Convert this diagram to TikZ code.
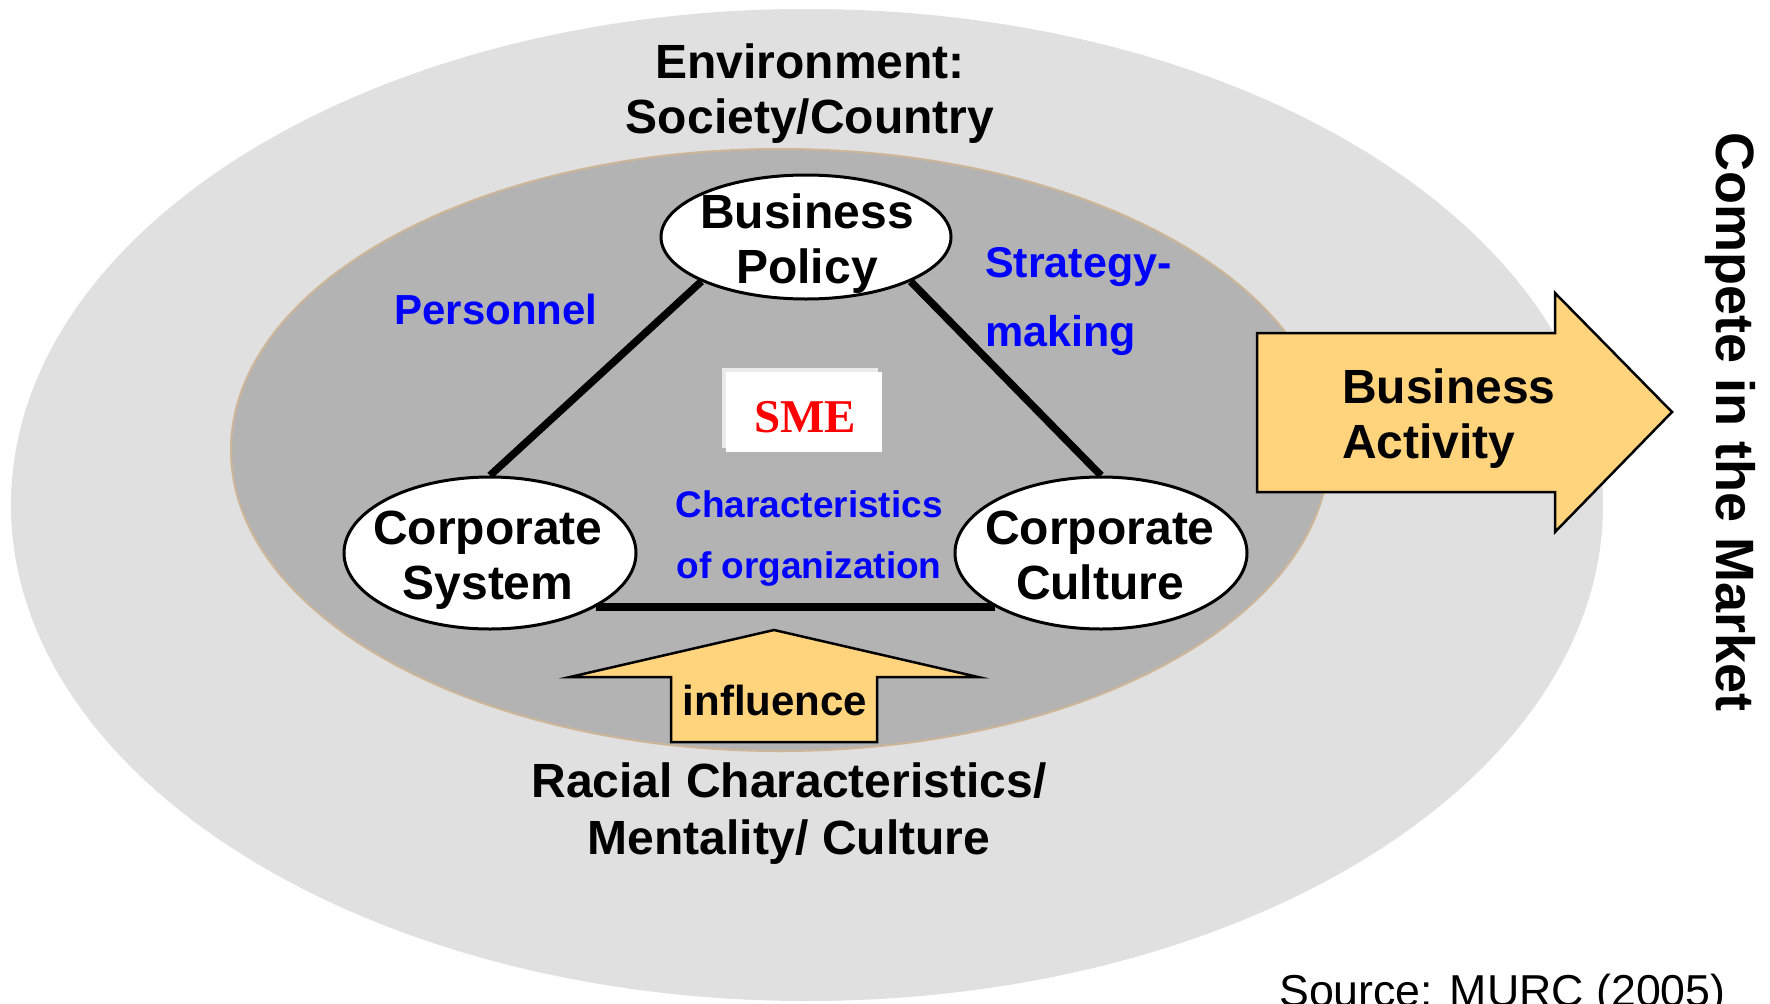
\documentclass[tikz,border=0pt]{standalone}
\usepackage{fontspec}
\setmainfont{Liberation Sans}
\newfontfamily\serifbf{Liberation Serif}
\usetikzlibrary{shapes.geometric}
\definecolor{outergray}{RGB}{224,224,224}
\definecolor{innergray}{RGB}{179,179,179}
\definecolor{innerrim}{RGB}{205,182,152}
\definecolor{arrowfill}{RGB}{255,212,125}
\definecolor{lblblue}{RGB}{0,0,255}
\definecolor{smered}{RGB}{255,0,0}
\begin{document}
\begin{tikzpicture}[x=1pt,y=-1pt,
  oval/.style={ellipse, draw=black, line width=3pt, fill=white, inner sep=0pt},
  bigtext/.style={font=\fontsize{48}{55}\selectfont\bfseries, align=center, inner sep=0pt},
  bluetext/.style={text=lblblue, inner sep=0pt},
  link/.style={line width=7.5pt, draw=black},
  blockarrow/.style={fill=arrowfill, draw=black, line width=2.5pt, line join=miter}]

\useasboundingbox (0,0) rectangle (1770,1004);
\fill[white] (0,0) rectangle (1770,1004);
\fill[outergray] (807,505) ellipse [x radius=796pt, y radius=496pt];
\draw[innerrim, line width=2pt, fill=innergray] (780,450) ellipse [x radius=549pt, y radius=301pt];

% ovals
\node[oval, minimum width=290pt, minimum height=124pt] (bp) at (806,237) {};
\node[oval, minimum width=292pt, minimum height=152pt] (cs) at (490,553) {};
\node[oval, minimum width=292pt, minimum height=152pt] (cc) at (1101,553) {};

% connectors
\draw[link] (bp.203) -- (cs.north);
\draw[link] (bp.-23) -- (cc.north);
\draw[link] (cs.-27.7) -- (cc.207.7);

% oval texts
\node[bigtext] (bpt) at (807,244) {Business\\Policy};
\node[bigtext] (cst) at (488,560) {Corporate\\System};
\node[bigtext] (cct) at (1100,555) {Corporate\\Culture};

% blue labels
\node[bluetext, font=\fontsize{42}{50}\selectfont\bfseries, anchor=base] (pers) at (496,324) {Personnel};
\node[bluetext, font=\fontsize{43}{69}\selectfont\bfseries, align=left, anchor=north west] (strat) at (985,247) {Strategy-\\making};
\node[bluetext, font=\fontsize{37}{61}\selectfont\bfseries, align=center] (charac) at (809,539) {Characteristics\\of organization};

% SME box
\fill[black!8] (722,368) rectangle (878,448);
\node[fill=white, minimum width=156pt, minimum height=80pt, inner sep=0pt] (smebox) at (804,412) {};
\node[text=smered, font=\fontsize{47}{50}\selectfont\serifbf\bfseries, anchor=base, inner sep=0pt] (sme) at (805,432) {SME};

% Business Activity arrow
\draw[blockarrow] (1257,333) -- (1555,333) -- (1555,293) -- (1672,412) -- (1555,532) -- (1555,492) -- (1257,492) -- cycle;
\node[bigtext, align=left, anchor=north west] (ba) at (1342,369) {Business\\Activity};

% influence arrow
\draw[blockarrow] (671,742) -- (671,677) -- (570,677) -- (774,630) -- (978,677) -- (877,677) -- (877,742) -- cycle;
\node[font=\fontsize{42}{50}\selectfont\bfseries, anchor=base, inner sep=0pt] (infl) at (775,715) {influence};

% outer texts
\node[bigtext] (env) at (810,94) {Environment:\\Society/Country};
\node[bigtext, font=\fontsize{48}{57}\selectfont\bfseries] (race) at (789,814) {Racial Characteristics/\\Mentality/ Culture};
\node[font=\fontsize{54}{60}\selectfont\bfseries, rotate=-90, anchor=base, inner sep=0pt] (market) at (1716,422) {Compete in the Market};
\node[font=\fontsize{44.7}{50}\selectfont, anchor=base west, inner sep=0pt] (src) at (1279,1006) {Source: MURC (2005)};
\end{tikzpicture}
\end{document}
